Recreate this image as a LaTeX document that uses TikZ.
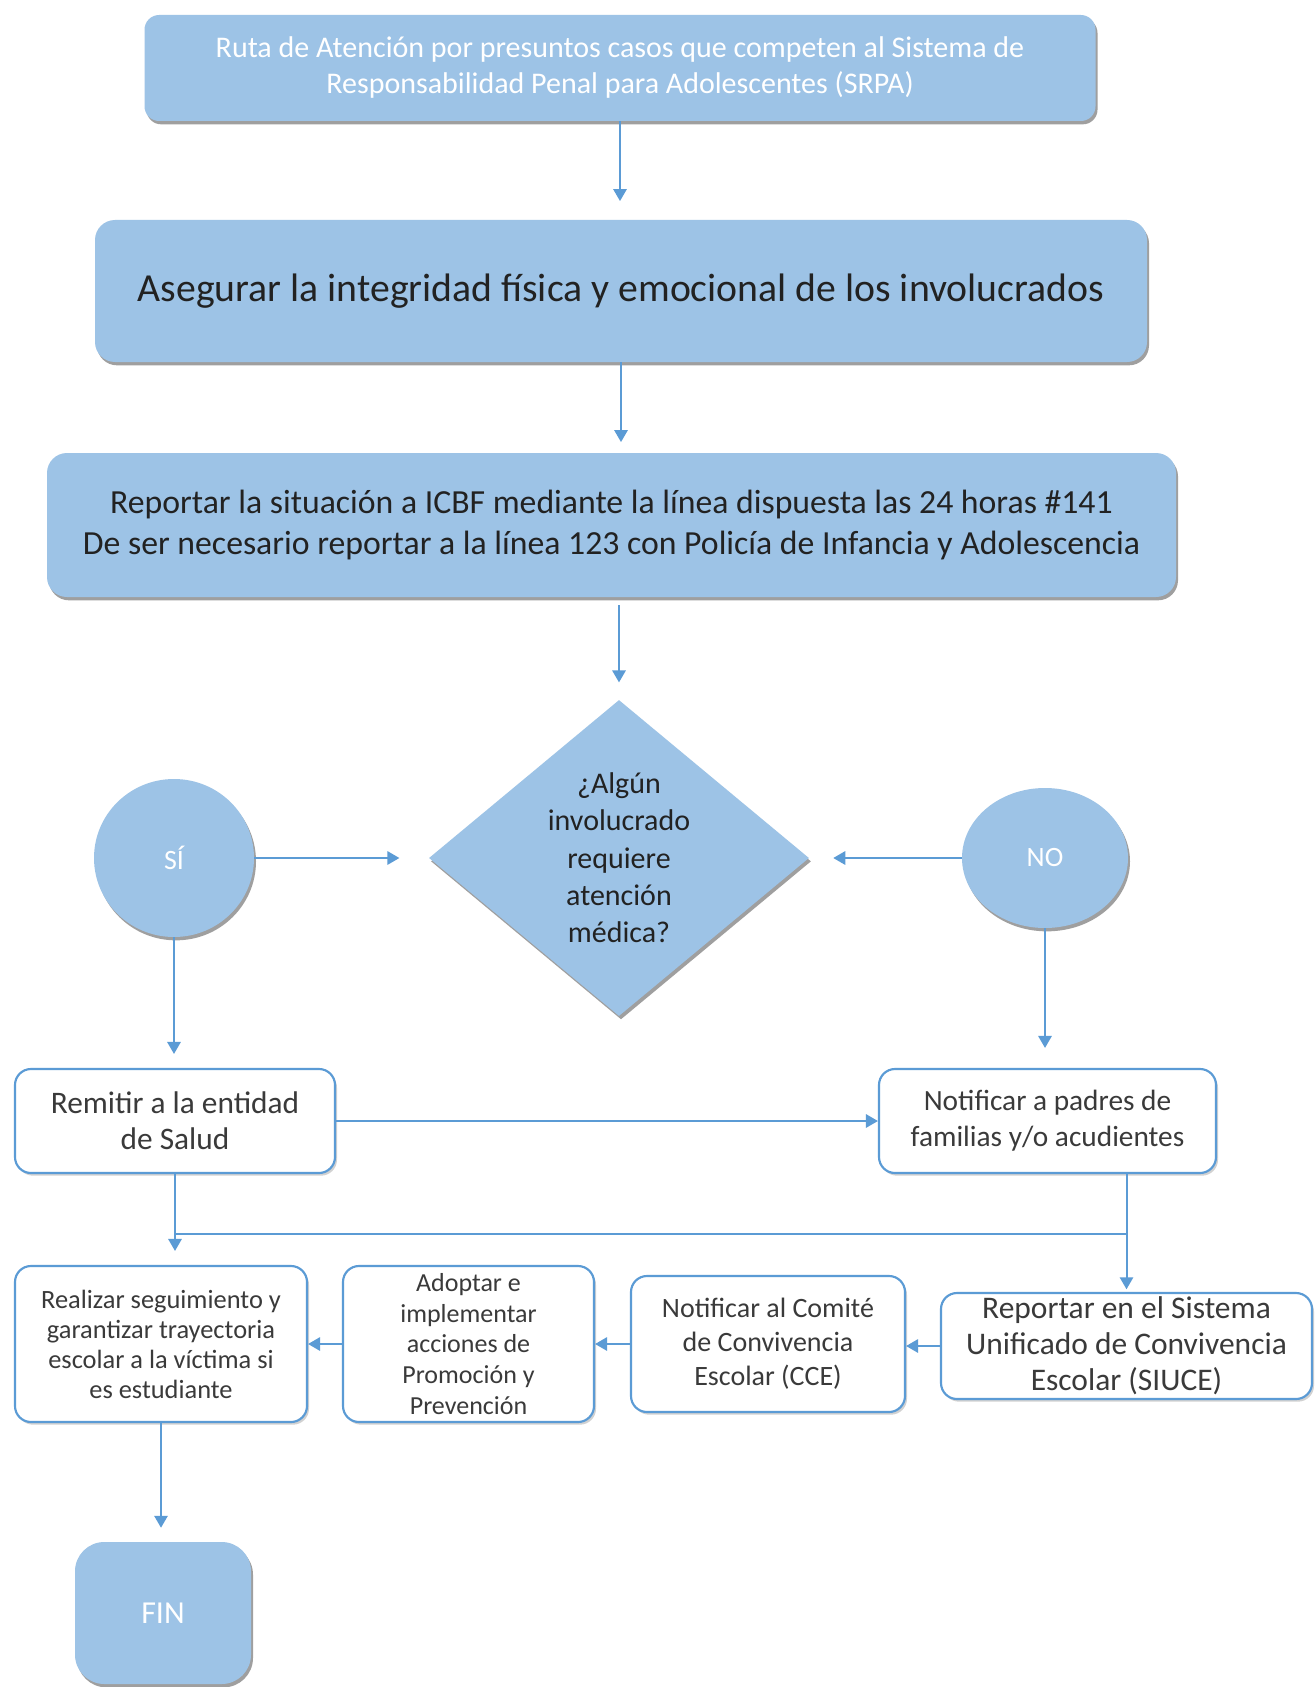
\documentclass[tikz,border=0pt]{standalone}
\usepackage{fontspec}
\setmainfont{Carlito}
\usetikzlibrary{shapes.geometric,arrows.meta,shadows}
\definecolor{boxfill}{HTML}{9DC3E6}
\definecolor{lineblue}{HTML}{5B9BD5}
\definecolor{txtdark}{HTML}{222222}
\definecolor{txtgray}{HTML}{3A3A3A}
\begin{document}
\begin{tikzpicture}[x=0.75pt,y=-0.75pt,
  bshadow/.style={drop shadow={shadow xshift=1.5pt,shadow yshift=-2.5pt,opacity=0.5,fill=black!75}},
  wshadow/.style={drop shadow={shadow xshift=1.5pt,shadow yshift=-2pt,opacity=0.18,fill=black}},
  filled/.style={fill=boxfill, draw=none, rounded corners=11pt, align=center, inner sep=0pt, bshadow},
  whitebox/.style={fill=white, draw=lineblue, line width=1.6pt, rounded corners=12pt, align=center, inner sep=0pt, text=txtgray, wshadow},
  roundnode/.style={ellipse, fill=boxfill, draw=none, inner sep=0pt, text=white, bshadow},
  conn/.style={draw=lineblue, line width=1.5pt},
  arr/.style={conn, -{Triangle[width=10pt,length=9pt]}},
]
\useasboundingbox (0,0) rectangle (1314,1687);
\fill[white] (0,0) rectangle (1314,1687);

\node[filled, minimum width=713.25pt, minimum height=79.5pt, text=white,
  font=\fontsize{22.5}{27}\selectfont] (title) at (620,68)
  {Ruta de Atención por presuntos casos que competen al Sistema de\\Responsabilidad  Penal para Adolescentes (SRPA)};

\node[filled, rounded corners=15pt, minimum width=789pt, minimum height=106.5pt, text=txtdark,
  font=\fontsize{29.8}{34}\selectfont] (safe) at (621,291)
  {Asegurar la integridad física y emocional de los involucrados};

\node[filled, rounded corners=15pt, minimum width=846.75pt, minimum height=108pt, text=txtdark,
  font=\fontsize{25.3}{30.75}\selectfont] (report) at (611.5,525)
  {Reportar la situación a ICBF mediante la línea dispuesta las 24 horas \#141\\De ser necesario reportar a la línea 123 con Policía de Infancia y Adolescencia};

\node[diamond, aspect=1.2, fill=boxfill, inner sep=0pt, minimum width=285pt, minimum height=237pt,
  align=center, text=txtdark, font=\fontsize{22.5}{28}\selectfont, bshadow] (q) at (619,858)
  {¿Algún\\involucrado\\requiere\\atención\\médica?};

\node[roundnode, minimum width=120pt, minimum height=118.5pt, font=\fontsize{21}{25}\selectfont] (si) at (174,858) {SÍ};
\node[roundnode, minimum width=124.5pt, minimum height=105pt, font=\fontsize{21}{25}\selectfont] (no) at (1045,858) {NO};

\node[whitebox, minimum width=240pt, minimum height=78pt, font=\fontsize{23.5}{27}\selectfont] (remitir) at (175,1121)
  {Remitir a la entidad\\de Salud};
\node[whitebox, minimum width=252.75pt, minimum height=78pt, font=\fontsize{22}{27}\selectfont] (padres) at (1047.5,1121)
  {Notificar a padres de\\familias y/o acudientes};

\node[whitebox, minimum width=219pt, minimum height=117pt, font=\fontsize{19.8}{22.5}\selectfont] (realizar) at (161,1344)
  {Realizar seguimiento y\\garantizar trayectoria\\escolar a la víctima si\\es estudiante};
\node[whitebox, minimum width=188.25pt, minimum height=117pt, font=\fontsize{19.5}{23}\selectfont] (adoptar) at (468.5,1344)
  {Adoptar e\\implementar\\acciones de\\Promoción y\\Prevención};
\node[whitebox, minimum width=205.5pt, minimum height=102pt, font=\fontsize{21}{25.5}\selectfont] (comite) at (768,1344)
  {Notificar al Comité\\de Convivencia\\Escolar (CCE)};
\node[whitebox, minimum width=278.25pt, minimum height=79.5pt, font=\fontsize{23.6}{27}\selectfont] (siuce) at (1126.5,1346)
  {Reportar en el Sistema\\Unificado de Convivencia\\Escolar (SIUCE)};

\node[filled, rounded corners=22pt, minimum width=132pt, minimum height=106.5pt, text=white,
  font=\fontsize{24}{28}\selectfont] (fin) at (163,1613) {FIN};

\coordinate (row) at (0,1234);

\draw[arr, shorten >=14pt] (title.south) -- (title.south |- safe.north);
\draw[arr, shorten >=8pt] (safe.south) -- (safe.south |- report.north);
\draw[arr, shorten <=6pt, shorten >=13pt] (report.south -| q.north) -- (q.north);
\draw[arr, shorten >=22pt] (si.east) -- (q.west);
\draw[arr, shorten >=18pt] (no.west) -- (q.east);
\draw[arr, shorten >=10.5pt] (si.south) -- (si.south |- remitir.north);
\draw[arr, shorten >=15pt] (no.south) -- (no.south |- padres.north);
\draw[arr] (remitir.east) -- (padres.west);
\draw[arr, shorten >=2pt] (padres.south -| siuce.north) -- (siuce.north);
\draw[conn] (siuce.north |- row) -- (remitir.south |- row);
\draw[arr, shorten >=10.5pt] (remitir.south) -- (remitir.south |- realizar.north);
\draw[arr] (siuce.west) -- (siuce.west -| comite.east);
\draw[arr] (comite.west) -- (adoptar.east);
\draw[arr] (adoptar.west) -- (realizar.east);
\draw[arr, shorten >=10.5pt] (realizar.south) -- (realizar.south |- fin.north);
\end{tikzpicture}
\end{document}
